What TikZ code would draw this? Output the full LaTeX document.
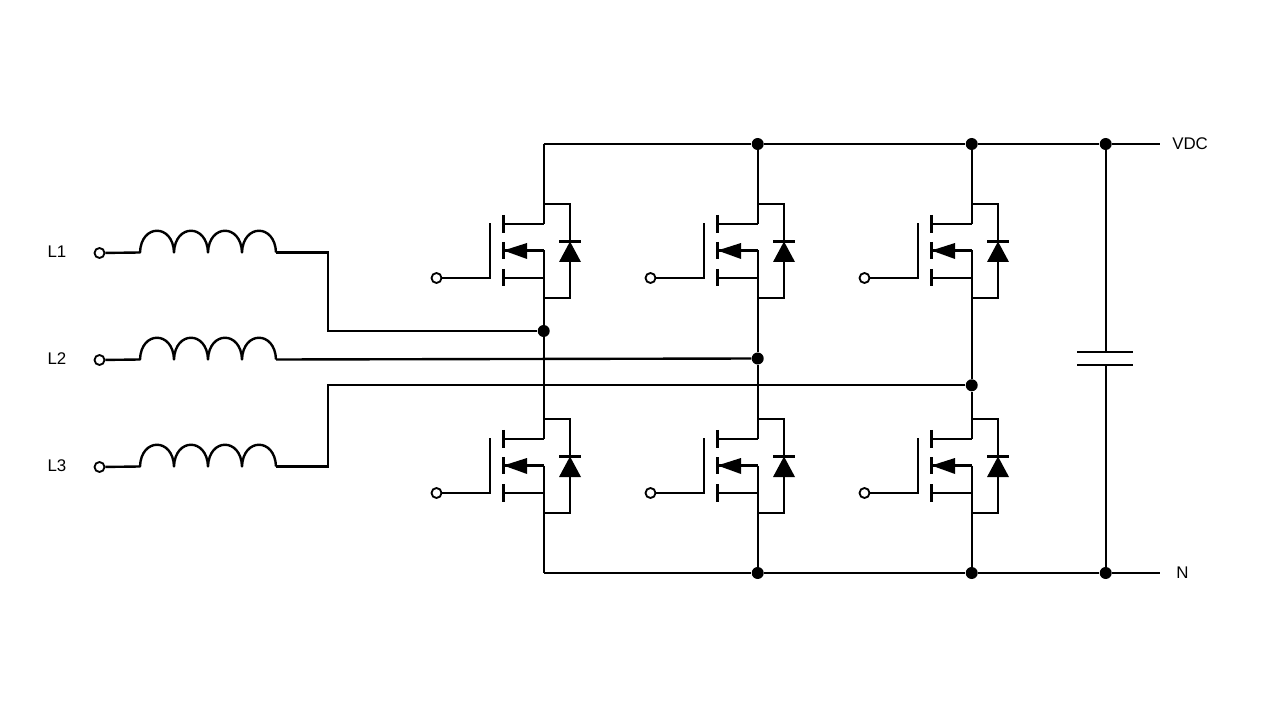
\documentclass[tikz,border=0pt]{standalone}
\usepackage{fontspec}
\setmainfont{Liberation Sans}
\usepackage{tikz}

\tikzset{
  wire/.style={line width=1.7pt,line join=miter},
  dot/.style={circle,fill=black,inner sep=0pt,minimum size=0.3cm},
  term/.style={circle,draw,fill=white,line width=1.3pt,inner sep=0pt,minimum size=0.25cm},
  lbl/.style={inner sep=0pt,font=\fontsize{12}{14}\selectfont}
}

\begin{document}
\begin{tikzpicture}[x=0.025cm,y=-0.025cm]
    \useasboundingbox (0,0) rectangle (1280,720);

    % line inputs
    \foreach \n/\yy in {1/253,2/360,3/467}{
      \node[lbl] (l\n) at (57,\yy-1) {L\n};
      \node[term] (in\n) at (99.5,\yy) {};
      \coordinate (a\n) at (140,\yy-0.5);
      \coordinate (b\n) at (276,\yy-0.5);
      \draw[wire,line join=round] (in\n) -- (a\n)
        .. controls +(1,-29) and +(-1,-29) .. ++(34,0)
        .. controls +(1,-29) and +(-1,-29) .. ++(34,0)
        .. controls +(1,-29) and +(-1,-29) .. ++(34,0)
        .. controls +(1,-29) and +(-1,-29) .. (b\n);
    }

    % junctions
    \foreach \n/\xx/\yy in {1/543.7/331,2/757.7/358.5,3/971.7/385.3}{
      \node[dot] (j\n) at (\xx,\yy) {};
    }
    \node[dot] (t2) at (757.7,144) {};
    \node[dot] (t3) at (971.7,144) {};
    \node[dot] (t4) at (1105.7,144) {};
    \node[dot] (n2) at (757.7,573) {};
    \node[dot] (n3) at (971.7,573) {};
    \node[dot] (n4) at (1105.7,573) {};
    \coordinate (t1) at (543.7,144);
    \coordinate (n1) at (543.7,573);
    \coordinate (vdcend) at (1160,144);
    \coordinate (nend) at (1160,573);
    \node[lbl,anchor=west] (vdc) at (1172,143.5) {VDC};
    \node[lbl,anchor=west] (neutral) at (1176,572.5) {N};

    % phase wires
    \draw[wire] (b1) -- (328,252.5) |- (j1);
    \draw[wire] (b2) -- (j2);
    \draw[wire] (b3) -- (328,466.5) |- (j3);

    % buses
    \draw[wire] (t1) -- (t2) -- (t3) -- (t4) -- (vdcend);
    \draw[wire] (n1) -- (n2) -- (n3) -- (n4) -- (nend);

    % switches
    \foreach \c/\dx in {1/0,2/214,3/428}{
      \foreach \r/\dy in {u/0,d/215}{
        \begin{scope}[shift={(\dx,\dy)}]
          \node[term] (g\r\c) at (436.5,278) {};
          \coordinate (gt\r\c) at (490,223);
          \coordinate (db\r\c) at (503.5,224);
          \coordinate (dr\r\c) at (543.7,224);
          \coordinate (mb\r\c) at (503.5,250.5);
          \coordinate (ms\r\c) at (543.7,250.5);
          \coordinate (sb\r\c) at (503.5,278);
          \coordinate (sr\r\c) at (543.7,278);
          \coordinate (ct\r\c) at (543.7,204);
          \coordinate (cb\r\c) at (543.7,298);
          \coordinate (da\r\c) at (570,204);
          \coordinate (dc\r\c) at (570,298);

          \draw[wire] (g\r\c) -- (490,278) -- (gt\r\c);
          \draw[wire] (503.5,215) -- (503.5,233);
          \draw[wire] (503.5,242) -- (503.5,259);
          \draw[wire] (503.5,269) -- (503.5,286.5);
          \draw[wire] (db\r\c) -- (dr\r\c);
          \draw[wire] (sb\r\c) -- (sr\r\c);
          \draw[wire] (mb\r\c) -- (ms\r\c);
          \fill (503.5,250.5) -- (527,243) -- (527,259) -- cycle;
          \draw[wire] (ct\r\c) -- (da\r\c) -- (dc\r\c) -- (cb\r\c);
          \draw[wire] (559,241.5) -- (581,241.5);
          \fill (570,241.5) -- (581,262) -- (559,262) -- cycle;
        \end{scope}
      }
      \draw[wire] (t\c) -- (dru\c);
      \draw[wire] (msu\c) -- (j\c);
      \draw[wire] (j\c) -- (drd\c);
      \draw[wire] (msd\c) -- (n\c);
    }

    % capacitor
    \coordinate (cp1) at (1105.7,352);
    \coordinate (cp2) at (1105.7,365);
    \draw[wire] (t4) -- (cp1);
    \draw[wire] (cp2) -- (n4);
    \draw[wire] (1077,352) -- (1133,352);
    \draw[wire] (1077,365) -- (1133,365);
\end{tikzpicture}
\end{document}
